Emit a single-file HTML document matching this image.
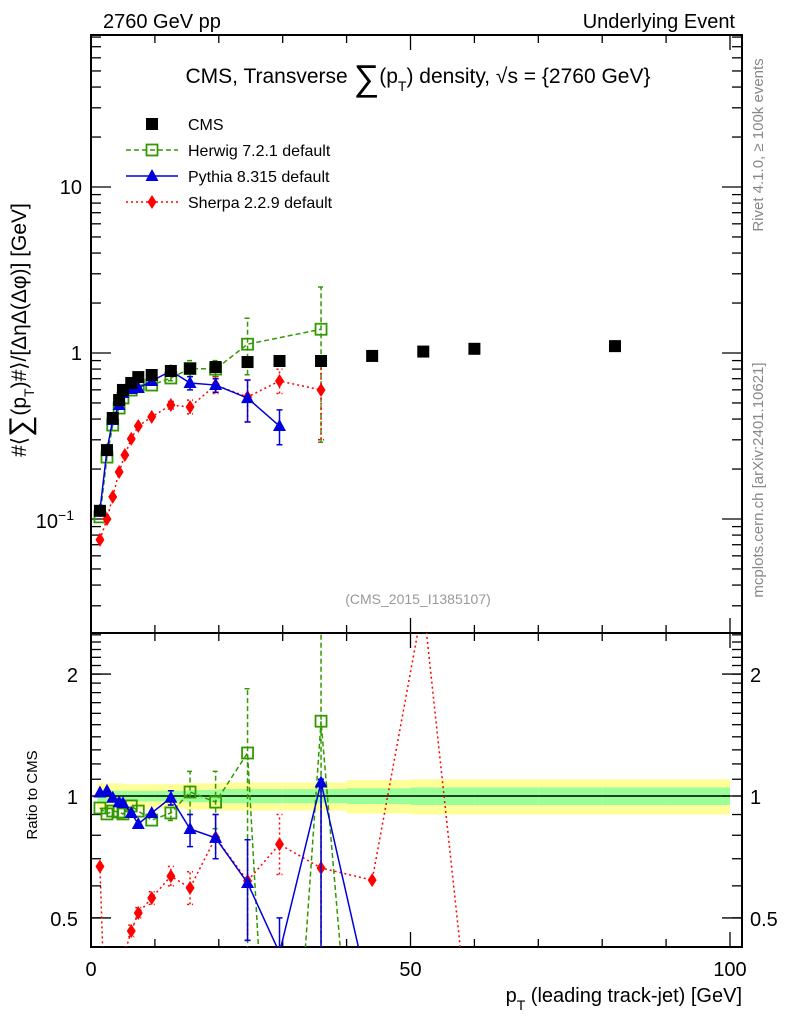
<!DOCTYPE html>
<html><head><meta charset="utf-8">
<style>
html,body{margin:0;background:#fff;overflow:hidden;width:786px;height:1024px;}
svg{display:block;font-family:"Liberation Sans",sans-serif;}
</style></head>
<body>
<svg id="chart" width="786" height="1024" viewBox="0 0 786 1024" xmlns="http://www.w3.org/2000/svg">
<text x="103" y="28" font-size="20">2760 GeV pp</text>
<text x="735" y="28" font-size="20" text-anchor="end">Underlying Event</text>
<text x="418" y="83" font-size="21" text-anchor="middle">CMS, Transverse <tspan font-size="36" dy="7">∑</tspan><tspan dy="-7">(p</tspan><tspan font-size="14" dy="8">T</tspan><tspan dy="-8">) density, √s = {2760 GeV}</tspan></text>
<text transform="translate(26,330) rotate(-90)" font-size="21" text-anchor="middle">#⟨<tspan font-size="30" dy="4">∑</tspan><tspan dy="-4">(p</tspan><tspan font-size="14" dy="8">T</tspan><tspan dy="-8">)#⟩/[ΔηΔ(Δφ)] [GeV]</tspan></text>
<text transform="translate(763,145) rotate(-90)" font-size="15" fill="#888" text-anchor="middle">Rivet 4.1.0, ≥ 100k events</text>
<text transform="translate(763,480) rotate(-90)" font-size="15" fill="#888" text-anchor="middle">mcplots.cern.ch [arXiv:2401.10621]</text>
<text x="418" y="604" font-size="14" fill="#999" text-anchor="middle">(CMS_2015_I1385107)</text>
<text transform="translate(37,795) rotate(-90)" font-size="15" text-anchor="middle">Ratio to CMS</text>
<text x="742" y="1002" font-size="20" text-anchor="end">p<tspan font-size="14" dy="8">T</tspan><tspan dy="-8"> (leading track-jet) [GeV]</tspan></text>
<g id="layer"></g>
</svg>
<script>
// ---- data ----
const cmsX=[1.4,2.5,3.4,4.4,5.0,6.3,7.4,9.5,12.5,15.5,19.5,24.5,29.5,36,44,52,60,82];
const cmsY=[0.112,0.26,0.406,0.521,0.599,0.66,0.716,0.737,0.779,0.806,0.823,0.882,0.895,0.895,0.96,1.02,1.06,1.10];
const herX=[1.4,2.5,3.4,4.4,5.0,6.3,7.4,9.5,12.5,15.5,19.5,24.5,36];
const herY=[0.103,0.236,0.368,0.466,0.536,0.598,0.641,0.641,0.707,0.806,0.80,1.13,1.39];
const herLo=[0.103,0.236,0.368,0.466,0.536,0.598,0.641,0.641,0.68,0.72,0.72,0.74,0.29];
const herHi=[0.103,0.236,0.368,0.466,0.536,0.598,0.641,0.641,0.74,0.90,0.90,1.62,2.5];
const pytX=[1.4,2.5,3.4,4.4,5.0,6.3,7.4,9.5,12.5,15.5,19.5,24.5,29.5];
const pytY=[0.113,0.26,0.395,0.486,0.574,0.607,0.615,0.678,0.779,0.66,0.641,0.535,0.363];
const pytLo=[0.113,0.26,0.395,0.486,0.574,0.607,0.615,0.678,0.75,0.60,0.58,0.384,0.28];
const pytHi=[0.113,0.26,0.395,0.486,0.574,0.607,0.615,0.678,0.81,0.72,0.70,0.688,0.454];
const shX=[1.4,2.5,3.4,4.4,5.3,6.3,7.4,9.5,12.5,15.5,19.5,24.5,29.5,36];
const shY=[0.075,0.1,0.136,0.192,0.243,0.304,0.363,0.412,0.486,0.473,0.641,0.543,0.678,0.599];
const shLo=[0.075,0.1,0.136,0.192,0.243,0.304,0.363,0.412,0.46,0.43,0.57,0.384,0.57,0.30];
const shHi=[0.075,0.1,0.136,0.192,0.243,0.304,0.363,0.412,0.51,0.52,0.72,0.688,0.80,0.90];
// ratios
const rHerX=[1.4,2.5,3.4,4.4,5.0,6.3,7.4,9.5,12.5,15.5,19.5,24.5,29.5,36,44];
const rHerY=[0.934,0.903,0.918,0.913,0.903,0.945,0.918,0.872,0.908,1.023,0.966,1.277,0.05,1.53,0.05];
const rHerLo=[0.934,0.903,0.918,0.913,0.903,0.945,0.918,0.872,0.87,0.9,0.83,0.2,0.05,0.3,0.05];
const rHerHi=[0.934,0.903,0.918,0.913,0.903,0.945,0.918,0.872,0.95,1.15,1.15,1.84,0.05,3,0.05];
const rPytX=[1.4,2.5,3.4,4.4,5.0,6.3,7.4,9.5,12.5,15.5,19.5,24.5,29.5,36,44];
const rPytY=[1.02,1.03,0.99,0.966,0.96,0.908,0.853,0.908,0.99,0.829,0.788,0.61,0.41,1.08,0.3];
const rPytLo=[1.02,1.03,0.99,0.966,0.96,0.908,0.853,0.908,0.95,0.75,0.7,0.44,0.3,0.3,0.3];
const rPytHi=[1.02,1.03,0.99,0.966,0.96,0.908,0.853,0.908,1.03,0.9,0.9,0.78,0.5,1.1,0.3];
const rShX=[1.4,2.5,3.4,4.4,5.3,6.3,7.4,9.5,12.5,15.5,19.5,24.5,29.5,36,44,52,60];
const rShY=[0.67,0.2,0.2,0.3,0.41,0.464,0.514,0.56,0.634,0.593,0.79,0.617,0.76,0.664,0.62,3.0,0.2];
const rShLo=[0.67,0.2,0.2,0.3,0.41,0.45,0.5,0.54,0.6,0.54,0.7,0.44,0.64,0.3,0.62,3.0,0.2];
const rShHi=[0.67,0.2,0.2,0.3,0.41,0.48,0.53,0.58,0.67,0.65,0.9,0.78,0.9,1.1,0.62,3.0,0.2];
const bandEdges=[1,5,10,15,20,30,40,50,60,70,80,90,100];
const bandYellow=[0.075,0.07,0.07,0.075,0.08,0.08,0.095,0.1,0.1,0.1,0.1,0.1];
const bandGreen=[0.03,0.03,0.03,0.035,0.04,0.04,0.045,0.05,0.05,0.05,0.05,0.05];
const xTicks=[0,50,100];

// ---- scales ----
const L=91,R=742,MT=35,MB=633,RT=633,RB=947;
const X=v=>91+v*6.39;
const YM=v=>353-166*Math.log10(v);
const YR=v=>796-405*Math.log10(v);
const NS="http://www.w3.org/2000/svg";
const layer=document.getElementById('layer');
function mk(tag,attrs,parent){const e=document.createElementNS(NS,tag);for(const k in attrs)e.setAttribute(k,attrs[k]);(parent||layer).appendChild(e);return e;}

const defs=mk('defs',{});
const c1=mk('clipPath',{id:'cm'},defs);mk('rect',{x:L,y:MT,width:R-L,height:MB-MT},c1);
const c2=mk('clipPath',{id:'cr'},defs);mk('rect',{x:L,y:RT,width:R-L,height:RB-RT},c2);

const gb=mk('g',{'clip-path':'url(#cr)'});
for(let i=0;i<bandYellow.length;i++){
  const x0=X(bandEdges[i]),x1=X(bandEdges[i+1]);
  const y=mk('rect',{x:x0,y:YR(1+bandYellow[i]),width:x1-x0,height:YR(1-bandYellow[i])-YR(1+bandYellow[i]),fill:'#ffff99'},gb);
  
  
  const g=mk('rect',{x:x0,y:YR(1+bandGreen[i]),width:x1-x0,height:YR(1-bandGreen[i])-YR(1+bandGreen[i]),fill:'#99ff99'},gb);
  
  
}
const ref=mk('line',{x1:X(1),x2:X(100),y1:YR(1),y2:YR(1),stroke:'#000','stroke-width':1.5});



function frame(top,bot,yfun,major,minor,name){
  const f=mk('rect',{x:L,y:top,width:R-L,height:bot-top,fill:'none',stroke:'#000','stroke-width':2});
  
  
  for(let v=0;v<=100;v+=10){const big=v%50==0;const x=X(v);
    mk('line',{x1:x,x2:x,y1:bot,y2:bot-(big?15:8),stroke:'#000','stroke-width':1.3});
    mk('line',{x1:x,x2:x,y1:top,y2:top+(big?15:8),stroke:'#000','stroke-width':1.3});}
  minor.forEach(v=>{const y=yfun(v);if(y<top||y>bot)return;
    mk('line',{x1:L,x2:L+10,y1:y,y2:y,stroke:'#000','stroke-width':1.3});
    mk('line',{x1:R,x2:R-10,y1:y,y2:y,stroke:'#000','stroke-width':1.3});});
  major.forEach(v=>{const y=yfun(v);
    mk('line',{x1:L,x2:L+20,y1:y,y2:y,stroke:'#000','stroke-width':1.3});
    mk('line',{x1:R,x2:R-20,y1:y,y2:y,stroke:'#000','stroke-width':1.3});});
}
const mainMinor=[];[0.01,0.1,1,10].forEach(d=>{for(let k=2;k<10;k++)mainMinor.push(d*k);});
frame(MT,MB,YM,[0.1,1,10],mainMinor,'main-plot-frame');
const rMinor=[];for(let v=0.4;v<2.6;v+=0.1)rMinor.push(+v.toFixed(1));
frame(RT,RB,YR,[0.5,1,2],rMinor,'ratio-plot-frame');
function txt(s,x,y,anchor,size,name){const t=mk('text',{x:x,y:y,'font-size':size,'text-anchor':anchor});t.textContent=s;
  return t;}
txt('10',82,YM(10)+7,'end',20,'y-tick-10');
txt('1',82,YM(1)+7,'end',20,'y-tick-1');
const t01=txt('10',74,YM(0.1)+9,'end',20,'y-tick-0.1');
const sp=mk('tspan',{dy:-8,'font-size':14});sp.textContent='−1';t01.appendChild(sp);
txt('2',78,YR(2)+8,'end',20,'ratio-tick-2');
txt('1',78,YR(1)+8,'end',20,'ratio-tick-1');
txt('0.5',78,YR(0.5)+8,'end',20,'ratio-tick-0.5');
txt('2',750,YR(2)+8,'start',20,'ratio-tick-right-2');
txt('1',750,YR(1)+8,'start',20,'ratio-tick-right-1');
txt('0.5',750,YR(0.5)+8,'start',20,'ratio-tick-right-0.5');
xTicks.forEach(v=>txt(String(v),X(v),976,'middle',20,'x-tick-'+v));

function marker(type,x,y,color,g,name){
  let e;
  if(type=='sq')e=mk('rect',{x:x-6,y:y-6,width:12,height:12,fill:'#000'},g);
  else if(type=='osq')e=mk('rect',{x:x-5.5,y:y-5.5,width:11,height:11,fill:'#fff','fill-opacity':0,stroke:color,'stroke-width':1.8},g);
  else if(type=='tri')e=mk('path',{d:`M${x},${y-7}L${x+6.5},${y+5}L${x-6.5},${y+5}Z`,fill:color},g);
  else e=mk('path',{d:`M${x},${y-7}L${x+4.5},${y}L${x},${y+7}L${x-4.5},${y}Z`,fill:color},g);
  
  
}
function series(xs,ys,lo,hi,yf,clip,color,dash,type,name,mainName){
  const g=mk('g',{'clip-path':clip});
  
  
  if(dash!==null){
    const pts=xs.map((x,i)=>X(x)+','+yf(ys[i])).join(' ');
    const l=mk('polyline',{points:pts,fill:'none',stroke:color,'stroke-width':1.5,'stroke-dasharray':dash},g);
    
    
  }
  xs.forEach((x,i)=>{
    if(lo&&hi&&hi[i]!==lo[i]){
      const e=mk('path',{d:`M${X(x)},${yf(lo[i])}V${yf(hi[i])}M${X(x)-3},${yf(lo[i])}h6M${X(x)-3},${yf(hi[i])}h6`,stroke:color,'stroke-width':1.5,fill:'none','stroke-dasharray':dash||'none'},g);
      
      
    }
    marker(type,X(x),yf(ys[i]),color,g,name+'-point');
  });
}
series(herX,herY,herLo,herHi,YM,'url(#cm)','#339900','5,3','osq','herwig','herwig-series');
series(shX,shY,shLo,shHi,YM,'url(#cm)','#ff0000','2,3','dia','sherpa','sherpa-series');
series(pytX,pytY,pytLo,pytHi,YM,'url(#cm)','#0000dd','','tri','pythia','pythia-series');
series(cmsX,cmsY,null,null,YM,'url(#cm)','#000',null,'sq','cms','cms-data-series');
series(rHerX,rHerY,rHerLo,rHerHi,YR,'url(#cr)','#339900','5,3','osq','herwig-ratio','herwig-ratio-series');
series(rShX,rShY,rShLo,rShHi,YR,'url(#cr)','#ff0000','2,3','dia','sherpa-ratio','sherpa-ratio-series');
series(rPytX,rPytY,rPytLo,rPytHi,YR,'url(#cr)','#0000dd','','tri','pythia-ratio','pythia-ratio-series');

const leg=[['CMS','#000',null,'sq'],['Herwig 7.2.1 default','#339900','5,3','osq'],['Pythia 8.315 default','#0000dd','','tri'],['Sherpa 2.2.9 default','#ff0000','2,3','dia']];
leg.forEach((d,i)=>{
  const y=124+i*26;
  const g=mk('g',{});
  
  
  if(d[2]!==null){mk('line',{x1:126,x2:178,y1:y,y2:y,stroke:d[1],'stroke-width':1.5,'stroke-dasharray':d[2]},g);}
  marker(d[3],152,y,d[1],g,'legend-marker');
  const t=mk('text',{x:188,y:y+6,'font-size':16},g);t.textContent=d[0];
});
</script>
</body></html>
